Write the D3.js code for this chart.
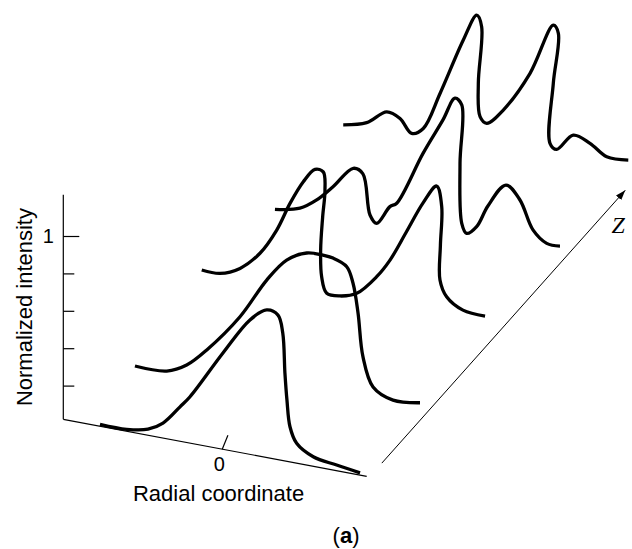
<!DOCTYPE html>
<html>
<head>
<meta charset="utf-8">
<script src="https://cdn.jsdelivr.net/npm/d3@7"></script>
<style>
  body { margin: 0; background: #fff; }
  svg { display: block; }
  .axis path, .axis line { stroke: #000; stroke-width: 1.2; fill: none; }
  .profile { fill: none; stroke: #000; stroke-width: 3.3; stroke-linejoin: round; }
</style>
</head>
<body>
<svg id="svg1" width="632" height="549"></svg>
<script>
// z position of each profile (front to back)
var zPositions = [0, 0.75, 1.97, 2.8, 3.9];

// profiles: [radial coordinate, normalized intensity]
var profile0 = [[-0.846,0.010],[-0.661,0.010],[-0.514,0.032],[-0.41,0.080],[-0.292,0.184],[-0.223,0.248],
  [0.005,0.515],[0.192,0.719],[0.308,0.789],[0.386,0.773],[0.419,0.682],[0.434,0.470],[0.448,0.328],
  [0.469,0.188],[0.515,0.106],[0.630,0.051],[0.792,0.030],[0.954,0.012]];
var profile1 = [[-0.957,0.0],[-0.737,0.005],[-0.599,0.057],[-0.460,0.158],[-0.230,0.369],[-0.045,0.592],
  [0.093,0.719],[0.232,0.777],[0.344,0.782],[0.414,0.776],[0.509,0.744],[0.552,0.663],[0.587,0.508],
  [0.621,0.279],[0.691,0.127],[0.829,0.077],[1.016,0.090]];
var profile2 = [[-1.069,0.0],[-0.943,0.0],[-0.804,0.047],[-0.666,0.148],[-0.550,0.289],[-0.458,0.445],
  [-0.366,0.574],[-0.285,0.652],[-0.228,0.647],[-0.216,0.551],[-0.232,0.406],[-0.246,0.226],[-0.239,0.084],
  [-0.204,0.001],[-0.112,0.0],[0.004,0.031],[0.142,0.140],[0.234,0.242],[0.348,0.410],[0.463,0.581],
  [0.557,0.685],[0.592,0.580],[0.583,0.373],[0.580,0.186],[0.626,0.103],[0.739,0.048],[0.892,0.038]];
var profile3 = [[-0.953,0.003],[-0.780,0.034],[-0.664,0.095],[-0.551,0.182],[-0.411,0.301],[-0.344,0.281],
  [-0.295,0.068],[-0.249,0.030],[-0.157,0.133],[-0.110,0.158],[0.072,0.451],[0.210,0.650],[0.293,0.778],
  [0.340,0.749],[0.328,0.435],[0.340,0.116],[0.374,0.067],[0.443,0.113],[0.521,0.235],[0.646,0.365],
  [0.743,0.299],[0.833,0.152],[0.928,0.094],[1.020,0.093]];
var profile4 = [[-0.998,0.0],[-0.836,0.035],[-0.697,0.113],[-0.605,0.091],[-0.524,0.023],[-0.444,0.061],
  [-0.328,0.265],[-0.167,0.574],[-0.074,0.721],[-0.040,0.664],[-0.063,0.357],[-0.051,0.181],[-0.005,0.152],
  [0.110,0.240],[0.295,0.463],[0.456,0.744],[0.491,0.705],[0.456,0.433],[0.433,0.109],[0.479,0.083],
  [0.594,0.176],[0.710,0.149],[0.826,0.094],[0.975,0.098]];
var profiles = [profile0, profile1, profile2, profile3, profile4];

var intensityTicks = [0.2, 0.4, 0.6, 0.8, 1];
var intensityLabels = [1];
var radialTicks = [0];
var radialExtent = [-1.1, 1];
var intensityExtent = [0.02, 1.22];
var zAxisExtent = [0.18, 3.76];
var zAxisRadial = 1.02;

var sans = "'Liberation Sans', Arial, Helvetica, sans-serif";
var serif = "'Liberation Serif', 'Times New Roman', serif";

var params = {
  "origin": { "x": 63.3, "y": 419.3 },
  "radialLength": 303.4,
  "radialRise": 57,
  "zLength": 272,
  "zSlope": 272.7 / 243.3
};

var scale = {
  "r": d3.scaleLinear().domain(radialExtent).range([0, params.radialLength]),
  "z": d3.scaleLinear().domain([0, 4]).range([0, params.zLength]),
  "y": d3.scaleLinear().domain([0, 1]).range([423, 236])
};

// oblique projection of (radial, z, intensity) onto the page
var project = function(r, z, v) {
  var a = scale.r(r);
  var b = scale.z(z);
  return [
    params.origin.x + a + b,
    params.origin.y + a * params.radialRise / params.radialLength - b * params.zSlope + scale.y(v) - scale.y(0)
  ];
};

var svg = d3.select("#svg1");

var defs = svg.append("defs");
defs.append("marker")
  .attr("id", "arrow")
  .attr("markerUnits", "userSpaceOnUse")
  .attr("markerWidth", 11)
  .attr("markerHeight", 8)
  .attr("refX", 10)
  .attr("refY", 3.5)
  .attr("orient", "auto")
  .append("path")
  .attr("d", "M0,0L10,3.5L0,7Z")
  .attr("fill", "#000");

// vertical intensity axis
var yAxisG = svg.append("g")
  .attr("class", "axis")
  .attr("transform", "translate(" + params.origin.x + ",0)");

yAxisG.append("line")
  .attr("x1", 0).attr("x2", 0)
  .attr("y1", scale.y(intensityExtent[0]))
  .attr("y2", scale.y(intensityExtent[1]));

var yTicks = yAxisG.append("g")
  .call(d3.axisRight(scale.y).tickValues(intensityTicks).tickSize(11).tickFormat(""));
yTicks.select(".domain").remove();
yTicks.selectAll(".tick line")
  .attr("x2", function(d) { return d === 1 ? 16 : 11; });

var yLabels = yAxisG.append("g")
  .call(d3.axisLeft(scale.y).tickValues(intensityLabels).tickSize(0).tickPadding(9.5).tickFormat(d3.format("d")));
yLabels.select(".domain").remove();
yLabels.selectAll("text")
  .style("font-family", sans)
  .style("font-size", "20px")
  .attr("fill", "#000");

svg.append("text")
  .attr("transform", "translate(32," + (scale.y(intensityExtent[0]) + scale.y(intensityExtent[1])) / 2 + ") rotate(-90)")
  .attr("text-anchor", "middle")
  .style("font-family", sans)
  .style("font-size", "22px")
  .text("Normalized intensity");

// radial axis along the front edge
var rStart = project(radialExtent[0], 0, 0);
var rEnd = project(radialExtent[1], 0, 0);
svg.append("line")
  .attr("x1", rStart[0]).attr("y1", rStart[1])
  .attr("x2", rEnd[0]).attr("y2", rEnd[1])
  .attr("stroke", "#000").attr("stroke-width", 1.2);

var rTicks = svg.append("g").selectAll("g")
  .data(radialTicks)
  .enter()
  .append("g")
  .attr("transform", function(d) {
    var p = project(d, 0, 0);
    return "translate(" + p[0] + "," + p[1] + ")";
  });
rTicks.append("line")
  .attr("x1", 0).attr("y1", 0)
  .attr("x2", 5.7).attr("y2", -14)
  .attr("stroke", "#000").attr("stroke-width", 1.2);
rTicks.append("text")
  .attr("x", -3)
  .attr("y", 21.5)
  .attr("text-anchor", "middle")
  .style("font-family", sans)
  .style("font-size", "20px")
  .text(function(d) { return d; });

var r0 = project(0, 0, 0);
svg.append("text")
  .attr("x", r0[0] - 3.7)
  .attr("y", r0[1] + 51.5)
  .attr("text-anchor", "middle")
  .style("font-family", sans)
  .style("font-size", "22px")
  .text("Radial coordinate");

// z axis with arrow
var zStart = project(zAxisRadial, zAxisExtent[0], 0);
var zEnd = project(zAxisRadial, zAxisExtent[1], 0);
svg.append("line")
  .attr("x1", zStart[0]).attr("y1", zStart[1])
  .attr("x2", zEnd[0]).attr("y2", zEnd[1])
  .attr("stroke", "#000").attr("stroke-width", 1)
  .attr("marker-end", "url(#arrow)");

svg.append("text")
  .attr("x", zEnd[0] - 7)
  .attr("y", zEnd[1] + 43)
  .attr("text-anchor", "middle")
  .style("font-family", serif)
  .style("font-style", "italic")
  .style("font-size", "24px")
  .text("Z");

// intensity profiles
var line = d3.line().curve(d3.curveCatmullRom.alpha(0.5));

svg.append("g").selectAll("path")
  .data(profiles)
  .enter()
  .append("path")
  .attr("class", "profile")
  .attr("d", function(d, i) {
    return line(d.map(function(p) { return project(p[0], zPositions[i], p[1]); }));
  });

// panel label
var label = svg.append("text")
  .attr("x", 346)
  .attr("y", 543)
  .attr("text-anchor", "middle")
  .style("font-family", sans)
  .style("font-size", "22px");
label.append("tspan").text("(");
label.append("tspan").style("font-weight", "bold").text("a");
label.append("tspan").text(")");
</script>
</body>
</html>
